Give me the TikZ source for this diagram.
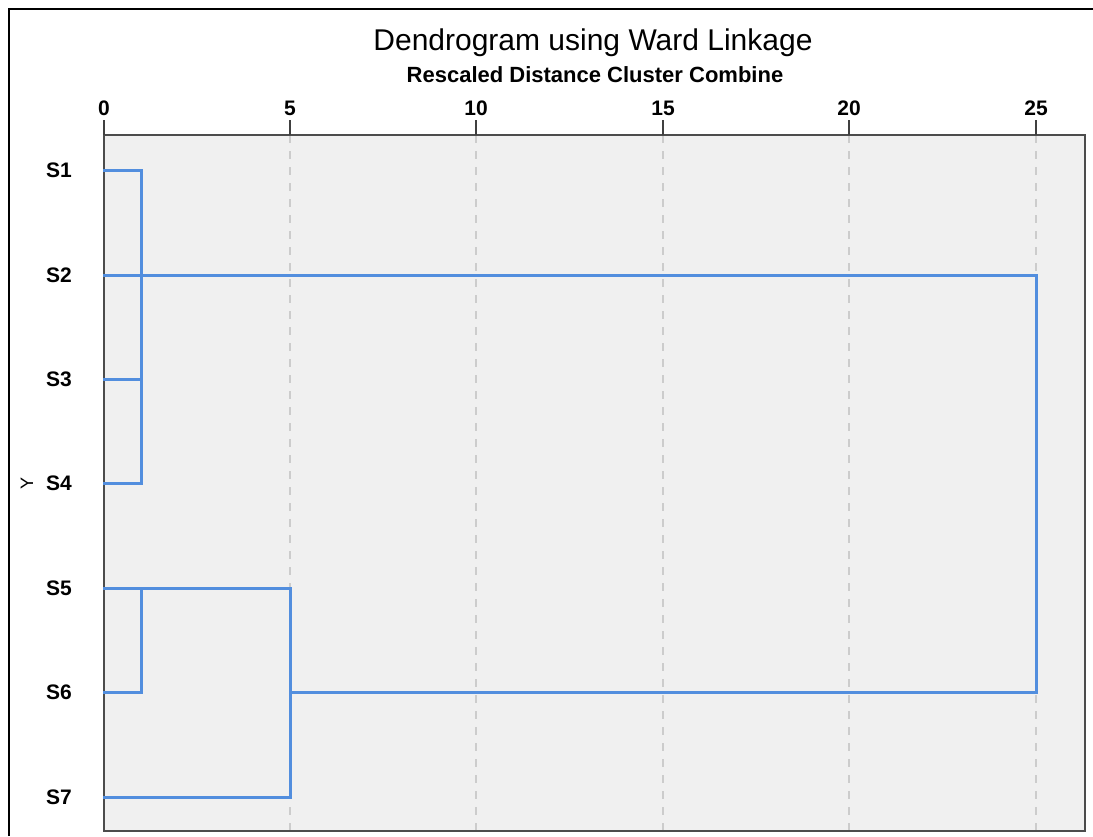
\documentclass[tikz,border=0pt]{standalone}
\usepackage{fontspec}
\setmainfont{Liberation Sans}
\definecolor{linkBlue}{RGB}{82,142,222}
\definecolor{plotGray}{RGB}{240,240,240}
\definecolor{gridGray}{RGB}{204,204,204}
\tikzstyle{leafLabel}=[anchor = east, inner sep = 0pt, font = \fontsize{21}{24}\selectfont\bfseries]
\tikzstyle{tickLabel}=[anchor = base, inner sep = 0pt, font = \fontsize{21}{24}\selectfont\bfseries]
\tikzstyle{linkLine}=[draw = linkBlue, line width = 3pt, line cap = rect]
\begin{document}
\begin{tikzpicture}[x = 1pt, y = -1pt]
\tikzstyle{gridLine} = [draw = gridGray, line width = 1.2pt, dash pattern = on 8pt off 8pt]
\tikzstyle{tickLine} = [draw = black!75, line width = 1.5pt]
\useasboundingbox (0,0) rectangle (1093,836);
\fill[white] (0,0) rectangle (1093,836);
\coordinate (fTL) at (9,9);
\coordinate (fTR) at (1093,9);
\coordinate (fBL) at (9,836);
\draw[line width = 2pt] (fBL) -- (fTL) -- (fTR);
\node[anchor = base, font = \fontsize{30}{34}\selectfont, inner sep = 0pt] (title) at (593,50) {Dendrogram using Ward Linkage};
\node[anchor = base, font = \fontsize{22}{26}\selectfont\bfseries, inner sep = 0pt] (subtitle) at (595,82) {Rescaled Distance Cluster Combine};
\coordinate (pTL) at (104,135);
\coordinate (pBR) at (1085,831);
\fill[plotGray] (pTL) rectangle (pBR);
\coordinate (g5t) at (290,135);
\coordinate (g5b) at (290,831);
\coordinate (g10t) at (476,135);
\coordinate (g10b) at (476,831);
\coordinate (g15t) at (663,135);
\coordinate (g15b) at (663,831);
\coordinate (g20t) at (849,135);
\coordinate (g20b) at (849,831);
\coordinate (g25t) at (1036,135);
\coordinate (g25b) at (1036,831);
\draw[gridLine] (g5t) -- (g5b);
\draw[gridLine] (g10t) -- (g10b);
\draw[gridLine] (g15t) -- (g15b);
\draw[gridLine] (g20t) -- (g20b);
\draw[gridLine] (g25t) -- (g25b);
\draw[draw = black!70, line width = 1.8pt] (pTL) rectangle (pBR);
\coordinate (t0) at (104,120);
\coordinate (t5) at (290,120);
\coordinate (t10) at (476,120);
\coordinate (t15) at (663,120);
\coordinate (t20) at (849,120);
\coordinate (t25) at (1036,120);
\draw[tickLine] (t0) -- (pTL);
\draw[tickLine] (t5) -- (g5t);
\draw[tickLine] (t10) -- (g10t);
\draw[tickLine] (t15) -- (g15t);
\draw[tickLine] (t20) -- (g20t);
\draw[tickLine] (t25) -- (g25t);
\node[tickLabel] (n0) at (104,115) {0};
\node[tickLabel] (n5) at (290,115) {5};
\node[tickLabel] (n10) at (476,115) {10};
\node[tickLabel] (n15) at (663,115) {15};
\node[tickLabel] (n20) at (849,115) {20};
\node[tickLabel] (n25) at (1036,115) {25};
\node[leafLabel] (lab1) at (72,170) {S1};
\node[leafLabel] (lab2) at (72,275) {S2};
\node[leafLabel] (lab3) at (72,379) {S3};
\node[leafLabel] (lab4) at (72,483) {S4};
\node[leafLabel] (lab5) at (72,588) {S5};
\node[leafLabel] (lab6) at (72,692) {S6};
\node[leafLabel] (lab7) at (72,797) {S7};
\node[rotate = 90, inner sep = 0pt, font = \fontsize{18}{20}\selectfont] (yLabel) at (27,483) {Y};
\coordinate (l1) at (104,170);
\coordinate (l2) at (104,275);
\coordinate (l3) at (104,379);
\coordinate (l4) at (104,483);
\coordinate (l5) at (104,588);
\coordinate (l6) at (104,692);
\coordinate (l7) at (104,797);
\coordinate (a1) at (141,170);
\coordinate (a2) at (141,275);
\coordinate (a3) at (141,379);
\coordinate (a4) at (141,483);
\coordinate (b5) at (141,588);
\coordinate (b6) at (141,692);
\coordinate (c5) at (290,588);
\coordinate (c6) at (290,692);
\coordinate (c7) at (290,797);
\coordinate (r2) at (1036,275);
\coordinate (r6) at (1036,692);
\draw[linkLine] (l1) -- (a1) -- (a4) -- (l4);
\draw[linkLine] (l2) -- (a2);
\draw[linkLine] (l3) -- (a3);
\draw[linkLine] (l6) -- (b6) -- (b5);
\draw[linkLine] (l5) -- (c5) -- (c7) -- (l7);
\draw[linkLine] (a2) -- (r2) -- (r6) -- (c6);
\end{tikzpicture}
\end{document}
